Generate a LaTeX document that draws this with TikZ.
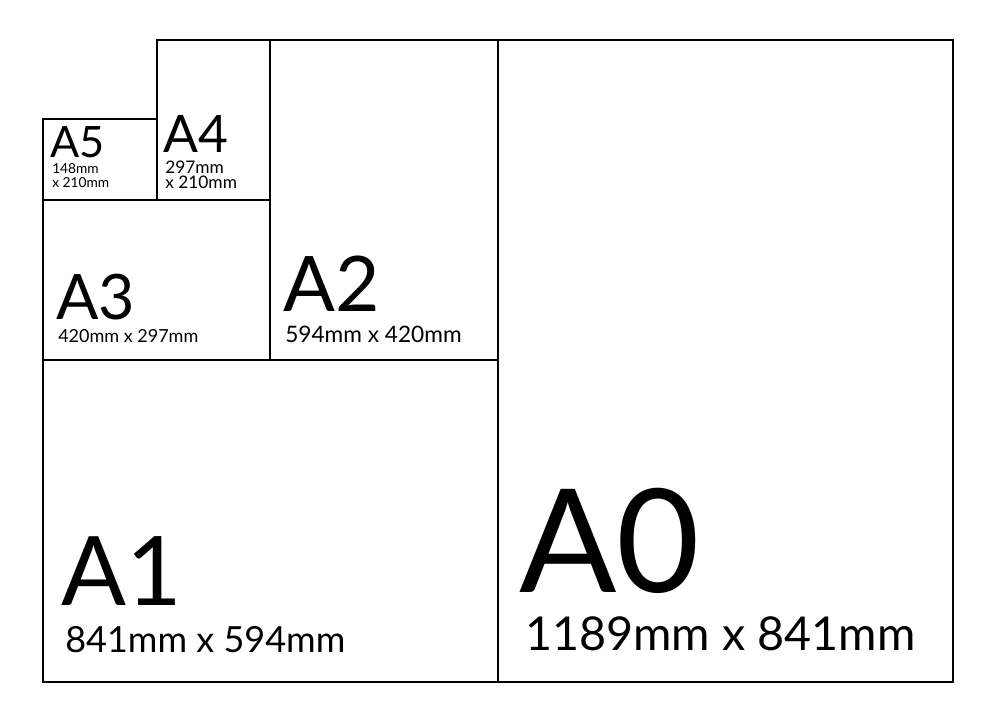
\documentclass[tikz,border=0pt]{standalone}
\usepackage{fontspec}
\setmainfont{Lato}
\usetikzlibrary{positioning, calc}

\begin{document}
\begin{tikzpicture}[x=0.75pt, y=-0.75pt,
    sheet/.style={draw, line width=1pt},
    lbl/.style={anchor=base west, inner sep=0pt}]

  \useasboundingbox (0,0) rectangle (996,720);

  % sheets

  \draw[sheet] (498,40) rectangle (953,682);
  \draw[sheet] (43,360) rectangle (498,682);
  \draw[sheet] (270,40) rectangle (498,360);
  \draw[sheet] (43,200) rectangle (270,360);
  \draw[sheet] (157,40) rectangle (270,200);
  \draw[sheet] (43,119) rectangle (157,200);

  % A0 and A1

  \node[lbl, font=\fontsize{108}{108}\selectfont] (a0) at (519,592) {A0};
  \node[lbl, font=\fontsize{35}{38}\selectfont] (a0size) at ($(a0.base west)+(6,58)$) {1189mm x 841mm};

  \node[lbl, font=\fontsize{72}{72}\selectfont] (a1) at (61,605) {A1};
  \node[lbl, font=\fontsize{27}{30}\selectfont] (a1size) at ($(a1.base west)+(4,47)$) {841mm x 594mm};

  % A2 and A3

  \node[lbl, font=\fontsize{57.5}{58}\selectfont] (a2) at (283,312) {A2};
  \node[lbl, font=\fontsize{17}{19}\selectfont] (a2size) at ($(a2.base west)+(2,30)$) {594mm x 420mm};

  \node[lbl, font=\fontsize{47}{48}\selectfont] (a3) at (56,320) {A3};
  \node[lbl, font=\fontsize{13.5}{15}\selectfont] (a3size) at ($(a3.base west)+(2,23)$) {420mm x 297mm};

  % A4 and A5

  \node[lbl, font=\fontsize{38.7}{40}\selectfont] (a4) at (163,153) {A4};
  \node[lbl, align=left, font=\fontsize{13}{11.25}\selectfont] (a4size) at ($(a4.base west)+(2,36)$) {297mm\\x 210mm};

  \node[lbl, font=\fontsize{32.4}{34}\selectfont] (a5) at (50,158) {A5};
  \node[lbl, align=left, font=\fontsize{10.3}{10.5}\selectfont] (a5size) at ($(a5.base west)+(2,30)$) {148mm\\x 210mm};

\end{tikzpicture}
\end{document}
